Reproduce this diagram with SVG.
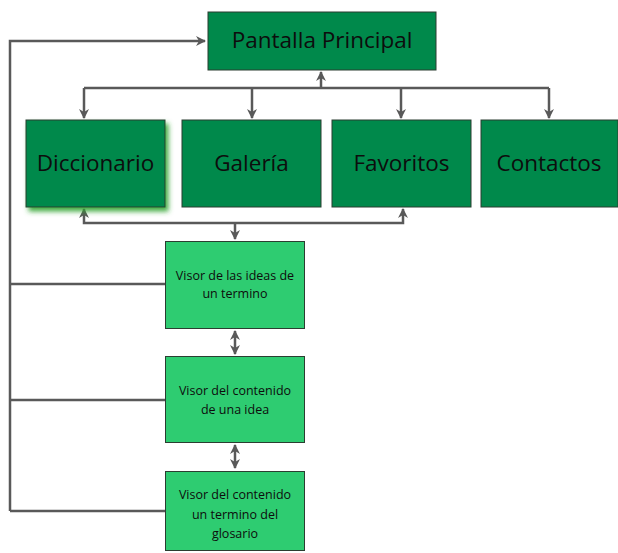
<svg xmlns="http://www.w3.org/2000/svg" width="618" height="553" viewBox="0 0 618 553">
<style>
.dk{fill:#00894b;stroke:#2b3d31;stroke-width:1}
.lt{fill:#2ecc71;stroke:#2b3d31;stroke-width:1}
.big{font-family:"Open Sans","Liberation Sans",sans-serif;font-size:22.5px;fill:#0d0d0d;text-anchor:middle}
.sm{font-family:"Open Sans","Liberation Sans",sans-serif;font-size:12.5px;fill:#0d0d0d;text-anchor:middle}
.ln{fill:none;stroke:#595959;stroke-width:2.5}
</style>
<defs>
<marker id="ah" viewBox="0 0 10 10" refX="9" refY="5" markerWidth="4" markerHeight="4" orient="auto-start-reverse" markerUnits="strokeWidth">
<path d="M0,0 L10,5 L0,10 L3,5 z" fill="#595959"/>
</marker>
<filter id="glow" x="-20%" y="-20%" width="150%" height="150%">
<feDropShadow dx="3" dy="4" stdDeviation="2.5" flood-color="#2fa32f" flood-opacity="0.9"/>
</filter>
</defs>
<g id="connectors">
<path class="ln" d="M10,511 V41 H205" marker-end="url(#ah)"/>
<path class="ln" d="M10,284 H166"/>
<path class="ln" d="M10,400 H166"/>
<path class="ln" d="M10,511 H166"/>
<path class="ln" d="M84,88 H549"/>
<path class="ln" d="M321,88 V72" marker-end="url(#ah)"/>
<path class="ln" d="M84,88 V118" marker-end="url(#ah)"/>
<path class="ln" d="M252,88 V118" marker-end="url(#ah)"/>
<path class="ln" d="M401,88 V118" marker-end="url(#ah)"/>
<path class="ln" d="M549,88 V118" marker-end="url(#ah)"/>
<path class="ln" d="M84,209 V223 H403 V209" marker-start="url(#ah)" marker-end="url(#ah)"/>
<path class="ln" d="M235,223 V239" marker-end="url(#ah)"/>
<path class="ln" d="M235,331 V354" marker-start="url(#ah)" marker-end="url(#ah)"/>
<path class="ln" d="M235,445 V468" marker-start="url(#ah)" marker-end="url(#ah)"/>
</g>
<g id="pantalla">
<rect class="dk" x="208" y="12" width="228" height="58"/>
<text class="big" x="322" y="48" font-size="25">Pantalla Principal</text>
</g>
<g id="diccionario">
<rect class="dk" x="26" y="120" width="139" height="87" filter="url(#glow)"/>
<text class="big" x="95.5" y="171">Diccionario</text>
</g>
<g id="galeria">
<rect class="dk" x="182" y="120" width="139" height="87"/>
<text class="big" x="251.5" y="171">Galería</text>
</g>
<g id="favoritos">
<rect class="dk" x="332" y="120" width="139" height="87"/>
<text class="big" x="401.5" y="171">Favoritos</text>
</g>
<g id="contactos">
<rect class="dk" x="481" y="120" width="137" height="87"/>
<text class="big" x="549" y="171">Contactos</text>
</g>
<g id="visor1">
<rect class="lt" x="165.5" y="241.5" width="139" height="87"/>
<text class="sm" x="235" y="280">Visor de las ideas de</text>
<text class="sm" x="235" y="298">un termino</text>
</g>
<g id="visor2">
<rect class="lt" x="165.5" y="356.5" width="139" height="86"/>
<text class="sm" x="235" y="395">Visor del contenido</text>
<text class="sm" x="235" y="414">de una idea</text>
</g>
<g id="visor3">
<rect class="lt" x="165.5" y="471.5" width="139" height="79"/>
<text class="sm" x="235" y="499">Visor del contenido</text>
<text class="sm" x="235" y="519">un termino del</text>
<text class="sm" x="235" y="538">glosario</text>
</g>
</svg>
